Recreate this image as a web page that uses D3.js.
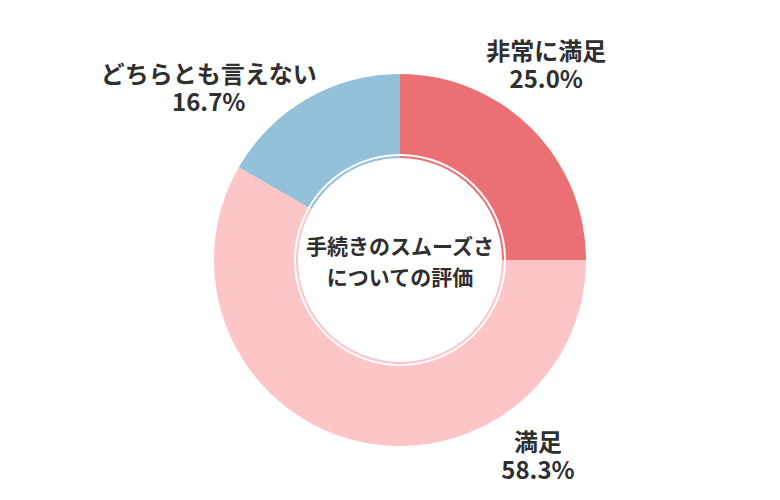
<!DOCTYPE html>
<html>
<head>
<meta charset="utf-8">
<script src="https://cdn.jsdelivr.net/npm/d3@7"></script>
<style>
  body { margin: 0; background: #fff; }
  svg text { font-family: "Noto Sans CJK JP", "Noto Sans", sans-serif; font-weight: bold; fill: #2f2f2f; }
</style>
</head>
<body>
<svg id="chart" width="780" height="500"></svg>
<script>
const categories = ["非常に満足", "満足", "どちらとも言えない"];
const values = [25.0, 58.3, 16.7];
const colors = ["#eb7073", "#fdc5c7", "#93c1d9"];
const centerTitle = ["手続きのスムーズさ", "についての評価"];

const w = 780, h = 500;
const cx = 400, cy = 260;
const outerR = 186, innerR = 106, ringR = 103;

// label anchors (angle from top clockwise, distance from centre)
const labelPlace = [
  { a: 37, r: 243 },
  { a: 144.9, r: 240 },
  { a: 311.9, r: 257 }
];

const svg = d3.select("#chart");
const g = svg.append("g").attr("transform", `translate(${cx},${cy})`);

const pie = d3.pie().sort(null).value(d => d);
const arcs = pie(values);

const arc = d3.arc().innerRadius(innerR).outerRadius(outerR);
const ring = d3.arc().innerRadius(ringR - 1).outerRadius(ringR + 1);

g.selectAll("path.slice").data(arcs).enter().append("path")
  .attr("class", "slice")
  .attr("d", arc)
  .attr("fill", (d, i) => colors[i]);

g.selectAll("path.ring").data(arcs).enter().append("path")
  .attr("class", "ring")
  .attr("d", ring)
  .attr("fill", (d, i) => colors[i]);

// centre title
g.selectAll("text.title").data(centerTitle).enter().append("text")
  .attr("class", "title")
  .attr("text-anchor", "middle")
  .attr("x", 0)
  .attr("y", (d, i) => -13 + i * 31)
  .attr("dy", "0.35em")
  .style("font-size", "21px")
  .text(d => d);

// slice labels
const labels = g.selectAll("g.label").data(arcs).enter().append("g")
  .attr("class", "label")
  .attr("transform", (d, i) => {
    const p = labelPlace[i];
    const rad = p.a * Math.PI / 180;
    return `translate(${p.r * Math.sin(rad)},${-p.r * Math.cos(rad)})`;
  });

labels.append("text")
  .attr("text-anchor", "middle")
  .attr("y", -14)
  .attr("dy", "0.35em")
  .style("font-size", "24px")
  .text((d, i) => categories[i]);

labels.append("text")
  .attr("text-anchor", "middle")
  .attr("y", 14)
  .attr("dy", "0.35em")
  .style("font-size", "24px")
  .text(d => d3.format(".1f")(d.data) + "%");
</script>
</body>
</html>
